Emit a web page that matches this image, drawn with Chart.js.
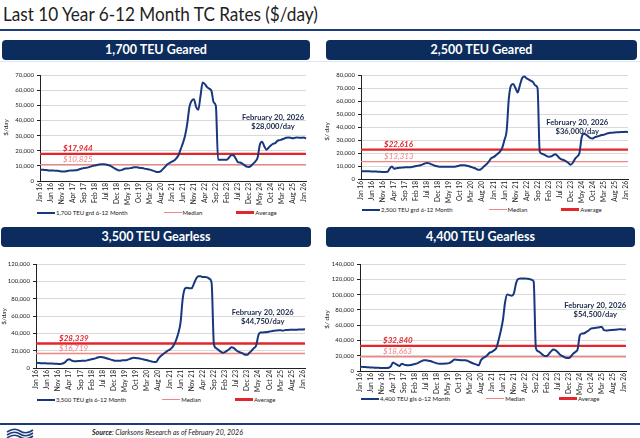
<!DOCTYPE html>
<html>
<head>
<meta charset="utf-8">
<script src="https://cdn.jsdelivr.net/npm/chart.js@4"></script>
<style>
  html, body { margin: 0; padding: 0; background: #fff; }
  body { width: 640px; height: 438px; position: relative; overflow: hidden; font-family: Lato, 'Liberation Sans', sans-serif; }
  .abs { position: absolute; }
  #title { left: 3px; top: 1px; font-size: 20px; color: #222; white-space: nowrap; transform-origin: left top; }
  .rule { left: 0; width: 640px; height: 2px; background: #1c3c7a; }
  .bar { height: 20px; background: #0b2c5c; border-radius: 4px; color: #fff; font-weight: bold; font-size: 12.5px; text-align: center; line-height: 20px; }
  .legend { font-size: 6px; color: #222; white-space: nowrap; display: flex; align-items: center; }
  .legend .sw { display: inline-block; width: 18px; margin-right: 1px; }
  .ytitle { font-size: 6.5px; color: #222; transform: rotate(-90deg); transform-origin: center; white-space: nowrap; }
  #source { left: 92px; top: 428px; font-size: 7px; font-style: italic; color: #222; }
</style>
</head>
<body>
<div id="title" class="abs">Last 10 Year 6-12 Month TC Rates ($/day)</div>
<div class="abs rule" style="top:29px"></div>
<div class="abs" style="left:0;top:61px;width:640px;height:1px;background:#dfe7f1"></div>

<div class="abs bar" style="left:2px;top:40px;width:308px">1,700 TEU Geared</div>
<div class="abs bar" style="left:326px;top:40px;width:311px">2,500 TEU Geared</div>
<div class="abs bar" style="left:1px;top:227px;width:310px">3,500 TEU Gearless</div>
<div class="abs bar" style="left:326px;top:227px;width:309px">4,400 TEU Gearless</div>

<canvas id="c1" class="abs" width="320" height="141" style="left:0;top:64px"></canvas>
<canvas id="c2" class="abs" width="320" height="139" style="left:320px;top:64px"></canvas>
<canvas id="c3" class="abs" width="320" height="140" style="left:0;top:252px"></canvas>
<canvas id="c4" class="abs" width="320" height="143" style="left:320px;top:252px"></canvas>

<div class="abs ytitle" style="left:-3px;top:124px">$/day</div>
<div class="abs ytitle" style="left:317px;top:128px">$/ day</div>
<div class="abs ytitle" style="left:-5px;top:313px">$/day</div>
<div class="abs ytitle" style="left:317px;top:316px">$/ day</div>

<div id="lg1" class="abs legend" style="left:37px;top:209px"></div>
<div id="lg2" class="abs legend" style="left:362px;top:206px"></div>
<div id="lg3" class="abs legend" style="left:37px;top:396px"></div>
<div id="lg4" class="abs legend" style="left:361px;top:395px"></div>

<div class="abs rule" style="top:423px"></div>
<svg class="abs" style="left:6px;top:427px" width="28" height="11" viewBox="0 0 28 11">
  <path d="M1 5 Q8 0 14 4 T27 3" stroke="#1c3c7a" stroke-width="1.6" fill="none"/>
  <path d="M1 8 Q8 3 14 7 T27 6" stroke="#1c3c7a" stroke-width="1.6" fill="none"/>
  <path d="M1 11 Q8 6 14 10 T27 9" stroke="#1c3c7a" stroke-width="1.6" fill="none"/>
</svg>
<div id="source" class="abs"><b>Source</b>: Clarksons Research as of February 20, 2026</div>

<script>
// month categories Jan 16 .. Feb 26
const monthNames = ['Jan','Feb','Mar','Apr','May','Jun','Jul','Aug','Sep','Oct','Nov','Dec'];
const years = [16, 17, 18, 19, 20, 21, 22, 23, 24, 25, 26];
const categories = [];
years.forEach(y => monthNames.forEach((m, i) => {
  if (y < 26 || i < 2) categories.push(m + ' ' + y);
}));

// every 5th month is labelled
const tickLabels = ['Jan 16','Jun 16','Nov 16','Apr 17','Sep 17','Feb 18','Jul 18','Dec 18','May 19','Oct 19',
  'Mar 20','Aug 20','Jan 21','Jun 21','Nov 21','Apr 22','Sep 22','Feb 23','Jul 23','Dec 23',
  'May 24','Oct 24','Mar 25','Aug 25','Jan 26'];

// $/day, monthly
const geared1700 = [
  7500,7400,7300,7200,7000,7000,6900,6800,6700,6500,6300,6300,
  6500,6800,7000,7000,7100,7300,7800,8200,8600,8700,9000,9500,
  10000,10300,10600,10900,11000,11000,10900,10500,10000,9200,8300,7500,
  7000,7200,7800,8200,8300,8500,8800,9000,9000,8800,8600,8400,
  8000,7800,7500,7000,6500,6000,6000,6500,8000,9500,11000,12000,
  12800,13500,15000,17000,21000,25000,30000,38000,49000,53000,54000,49000,
  47000,56000,65000,64000,62000,61000,59500,52000,49500,14000,14000,14000,
  14000,14000,15500,17000,17000,15000,12500,12200,11500,10500,9500,9300,
  10000,11500,13000,15500,24000,26000,23000,20700,22000,23500,24500,25000,
  26500,27000,27400,28000,28500,28700,28500,28200,28500,28800,28500,28500,
  28700,28000
];
const geared2500 = [
  6000,6000,6000,5900,5900,5800,5800,5700,5600,5500,5400,5400,
  5500,8000,9700,7900,8300,8500,8700,8800,9000,9000,9100,9300,
  9600,10000,10300,10600,11200,12000,12300,12000,11200,10500,10000,9700,
  9500,9400,9400,9400,9500,9400,9400,9600,10000,10500,10600,10500,
  10200,9800,9200,8600,8000,7200,7200,8500,10200,11500,13500,16000,
  16800,18000,19500,21000,24000,30000,37000,62000,72000,73000,70000,66500,
  72000,77500,78800,77500,76500,75500,74500,72000,70000,21000,19500,18800,
  17800,17200,17300,18200,19000,17800,16000,15000,14500,13500,12300,11000,
  12500,15500,17300,20000,32000,34800,34200,32800,31500,31200,32200,32700,
  33200,33800,34000,34700,35200,35500,35600,35800,35900,36000,36100,36200,
  36300,36000
];
const gearless3500 = [
  6000,5800,5600,5500,5400,5300,5200,5100,5000,4900,4700,4700,
  5200,6500,9000,10000,8600,7800,7900,8000,8200,8400,8500,8800,
  9500,10000,10600,11400,12300,12700,12400,11800,11000,10200,9400,8700,
  8400,8300,8500,8800,8800,9300,10300,11300,11700,11500,11200,10700,
  10200,9600,8900,8200,7600,7000,7000,10500,13500,15500,17500,19500,
  21000,23000,26500,32000,40000,52000,80000,91500,92500,92000,92000,97000,
  103000,106000,106000,105000,105000,104500,103000,98000,28000,23000,21000,19000,
  17600,18400,20000,22000,24000,23000,20700,18800,17800,16800,15300,15300,
  17600,20000,23000,25700,37500,41000,41000,41200,41500,42000,42500,43000,
  43200,43500,43700,43000,43700,43800,44000,44000,44100,44200,44300,44400,
  44400,44750
];
const gearless4400 = [
  5700,5400,5200,5000,4800,4600,4500,4300,4200,4000,3900,3900,
  4000,4300,6000,11000,9600,8000,6600,9600,8300,7800,7400,7800,
  8500,9200,10000,11500,13000,14000,14000,13500,13000,12000,11000,10000,
  9600,9400,9500,9700,10000,11000,13000,14900,14600,14400,14200,14000,
  14000,13200,11800,10500,9300,8300,7400,14000,17000,18400,21000,24000,
  25000,27000,30000,40000,52000,66500,90000,100000,99300,98400,101500,115000,
  120500,121000,121000,121000,120800,120500,119500,117000,30000,25800,24000,21400,
  19700,19700,22700,26000,28000,27000,24500,21400,19700,18000,17000,17000,
  19200,22700,25000,28400,46800,49000,49400,51200,53000,55500,56000,56400,
  56800,57300,57700,53400,53000,53200,53500,53800,54000,54200,54700,54500,
  54300,54500
];

const medians = [10825, 13313, 16719, 18663];
const averages = [17944, 22616, 28339, 32840];
const latestRates = ['$28,000/day', '$36,000/day', '$44,750/day', '$54,500/day'];
const seriesNames = ['1,700 TEU grd 6-12 Month', '2,500 TEU grd 6-12 Month', '3,500 TEU gls 6-12 Month', '4,400 TEU gls 6-12 Month'];

const NAVY = '#17387e';
const PINK = '#f08585';
const RED = '#e2262b';
const FONT = "Lato, 'Liberation Sans', sans-serif";

// fit the page title to the width it has in the reference
const titleEl = document.getElementById('title');
titleEl.style.transform = 'scaleX(' + (315 / titleEl.offsetWidth) + ')';

// draws the reference-line labels and the latest-rate note
const notesPlugin = {
  id: 'notes',
  afterDatasetsDraw(chart, args, opts) {
    const { ctx, chartArea, scales } = chart;
    const y = scales.y;
    ctx.save();
    ctx.textAlign = 'left';
    ctx.textBaseline = 'bottom';
    ctx.font = 'italic bold 8px ' + FONT;
    ctx.fillStyle = RED;
    ctx.fillText(opts.avgText, chartArea.left + 23, y.getPixelForValue(opts.average) - 1.5);
    ctx.font = 'italic 8px ' + FONT;
    ctx.fillStyle = PINK;
    ctx.fillText(opts.medText, chartArea.left + 23, y.getPixelForValue(opts.median) - 1);
    ctx.textAlign = 'center';
    ctx.textBaseline = 'middle';
    ctx.font = 'bold 7.6px ' + FONT;
    ctx.fillStyle = '#1b2a4a';
    const nx = scales.x.getPixelForValue(opts.noteIndex);
    const ny = y.getPixelForValue(opts.noteValue);
    ctx.fillText('February 20, 2026', nx, ny);
    ctx.fillText(opts.noteRate, nx, ny + 9);
    ctx.restore();
  }
};

function makeChart(id, n, series, yMax, yStep, axisWidth, pad, noteIndex, noteValue) {
  const first = categories[0], last = categories[categories.length - 1];
  const chart = new Chart(document.getElementById(id), {
    type: 'line',
    data: {
      labels: categories,
      datasets: [
        { label: seriesNames[n], data: series, borderColor: NAVY, borderWidth: 2, pointRadius: 0,
          cubicInterpolationMode: 'monotone', order: 0 },
        { label: 'Median', data: [{ x: first, y: medians[n] }, { x: last, y: medians[n] }],
          borderColor: PINK, borderWidth: 1.3, pointRadius: 0, order: 2 },
        { label: 'Average', data: [{ x: first, y: averages[n] }, { x: last, y: averages[n] }],
          borderColor: RED, borderWidth: 2.4, pointRadius: 0, order: 1 }
      ]
    },
    options: {
      responsive: false,
      animation: false,
      layout: { padding: pad },
      plugins: {
        legend: { display: false },
        tooltip: { enabled: false },
        notes: {
          average: averages[n], median: medians[n],
          avgText: '$' + averages[n].toLocaleString('en-US'),
          medText: '$' + medians[n].toLocaleString('en-US'),
          noteIndex, noteValue, noteRate: latestRates[n]
        }
      },
      scales: {
        x: {
          type: 'category',
          offset: false,
          grid: { display: false, drawTicks: false },
          border: { display: true, color: '#222', width: 1 },
          ticks: {
            autoSkip: false, maxRotation: 90, minRotation: 90, padding: 2,
            font: { family: FONT, size: 6.6 }, color: '#222',
            callback: (v, i) => (i % 5 === 0 ? tickLabels[i / 5] : '')
          },
          afterFit: s => { s.height = 24; }
        },
        y: {
          min: 0, max: yMax,
          grid: { color: '#d9d9d9', lineWidth: 1, tickLength: 3, tickColor: '#222' },
          border: { display: true, color: '#222', width: 1 },
          ticks: {
            stepSize: yStep, padding: 3,
            font: { family: FONT, size: 6 }, color: '#222',
            callback: v => v.toLocaleString('en-US')
          },
          afterFit: s => { s.width = axisWidth; }
        }
      }
    },
    plugins: [notesPlugin]
  });

  // legend below the axis labels
  const lg = document.getElementById('lg' + (n + 1));
  const widths = [2, 1.3, 2.4];
  chart.data.datasets.forEach((ds, i) => {
    const item = document.createElement('span');
    item.style.display = 'flex';
    item.style.alignItems = 'center';
    item.style.marginRight = i === 0 ? '36px' : '34px';
    item.innerHTML = `<span class="sw" style="height:${widths[i]}px;background:${ds.borderColor}"></span>${ds.label}`;
    lg.appendChild(item);
  });
  return chart;
}

makeChart('c1', 0, geared1700, 70000, 10000, 40, { top: 11, right: 14, left: 0, bottom: 0 }, 106, 42000);
makeChart('c2', 1, geared2500, 80000, 10000, 41, { top: 11, right: 12, left: 0, bottom: 0 }, 98, 43500);
makeChart('c3', 2, gearless3500, 120000, 20000, 36, { top: 12, right: 15, left: 0, bottom: 0 }, 102, 63500);
makeChart('c4', 3, gearless4400, 140000, 20000, 40, { top: 12, right: 14, left: 0, bottom: 0 }, 107, 85000);
</script>
</body>
</html>
